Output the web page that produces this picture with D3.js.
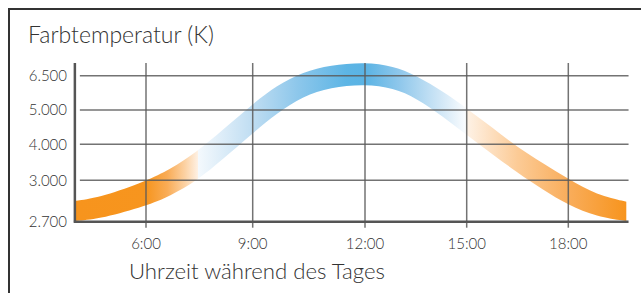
<!DOCTYPE html>
<html>
<head>
<meta charset="utf-8">
<script src="https://cdn.jsdelivr.net/npm/d3@7"></script>
<style>
  html, body { margin: 0; padding: 0; background: #fff; }
  svg { display: block; }
  text { font-family: Lato, "Open Sans", sans-serif; font-weight: 300; fill: #333; }
</style>
</head>
<body>
<svg id="chart" width="641" height="293"></svg>
<script>
// ---- data ----
const hours  = [4.0, 4.8, 6.0, 6.675, 7.425, 8.17, 9.0, 9.64, 10.35, 11.07, 12.0, 12.835, 13.525, 14.31, 15.0, 15.785, 16.475, 17.26, 18.0, 18.84, 19.72];
const upperK = [2850, 2883, 2995, 3300, 3786, 4431, 5262, 6071, 6662, 6960, 7090, 6920, 6500, 5800, 5074, 4466, 3933, 3472, 3036, 2893, 2845];
const lowerK = [2705, 2725, 2814, 2886, 2995, 3592, 4321, 4904, 5612, 5995, 6130, 5960, 5512, 4805, 4271, 3703, 3231, 2930, 2821, 2736, 2705];
const xTicks = [6, 9, 12, 15, 18];
const xTickLabels = ["6:00", "9:00", "12:00", "15:00", "18:00"];
const yTicks = [2700, 3000, 4000, 5000, 6500];
const yTickLabels = ["2.700", "3.000", "4.000", "5.000", "6.500"];
const yTitle = "Farbtemperatur (K)";
const xTitle = "Uhrzeit während des Tages";
const xStart = 4.0, xEnd = 19.72;

// ---- scales ----
const x = d3.scaleLinear().domain(xTicks).range([146, 252.7, 365, 466.7, 568.3]);
const y = d3.scaleLinear().domain(yTicks).range([221.7, 180.3, 144.3, 110, 75.7]);
const plotTop = 63;

const svg = d3.select("#chart");

// frame
svg.append("path").attr("d", "M9,293 V9 H641")
  .attr("fill", "none").attr("stroke", "#333").attr("stroke-width", 2);

// gradient along x
const gradStops = [
  [4.0, "#F7941D"], [6.0, "#F7951E"], [6.6, "#F9AC56"], [7.1, "#FCD2A4"], [7.45, "#FEF0E2"],
  [7.47, "#F4F9FD"], [9.0, "#BFDDF2"], [10.2, "#8DC7EB"], [11.5, "#5DB5E5"],
  [12.0, "#5AB3E4"], [13.0, "#8EC7EB"], [14.2, "#CFE6F6"], [14.97, "#FAFCFE"],
  [15.0, "#FEF2E6"], [16.5, "#FCCB96"], [18.0, "#F9AD5B"], [19.72, "#F7941D"]
];
const defs = svg.append("defs");
const x0 = x(xStart), x1 = x(xEnd);
const grad = defs.append("linearGradient").attr("id", "band")
  .attr("gradientUnits", "userSpaceOnUse")
  .attr("x1", x0).attr("x2", x1).attr("y1", 0).attr("y2", 0);
grad.selectAll("stop").data(gradStops).join("stop")
  .attr("offset", d => (x(d[0]) - x0) / (x1 - x0))
  .attr("stop-color", d => d[1]);
defs.append("clipPath").attr("id", "clip").append("rect")
  .attr("x", x0).attr("y", 0).attr("width", x1 - x0).attr("height", y(2700));

// band
const area = d3.area()
  .x((d, i) => x(hours[i]))
  .y0((d, i) => y(lowerK[i]))
  .y1((d, i) => y(upperK[i]))
  .curve(d3.curveBasis);
svg.append("path").datum(hours)
  .attr("clip-path", "url(#clip)")
  .attr("d", area)
  .attr("fill", "url(#band)");

// grid
const grid = svg.append("g").attr("stroke", "#5a5a5a").attr("stroke-opacity", 0.85).attr("stroke-width", 1.5);
grid.selectAll("line.h").data(yTicks.slice(1)).join("line")
  .attr("x1", x0 + 5).attr("x2", x1 + 2)
  .attr("y1", d => y(d)).attr("y2", d => y(d));
grid.selectAll("line.v").data(xTicks).join("line")
  .attr("x1", d => x(d)).attr("x2", d => x(d))
  .attr("y1", plotTop).attr("y2", y(2700) + 6);

// axes lines
svg.append("line").attr("x1", x0).attr("x2", x0).attr("y1", plotTop).attr("y2", y(2700) + 1)
  .attr("stroke", "#555").attr("stroke-width", 2.5);
svg.append("line").attr("x1", x0 - 1).attr("x2", x1 + 2).attr("y1", y(2700)).attr("y2", y(2700))
  .attr("stroke", "#555").attr("stroke-width", 2.5);

// y tick labels
svg.append("g").selectAll("text").data(yTicks).join("text")
  .attr("x", 67).attr("y", d => y(d)).attr("dy", "0.36em")
  .attr("text-anchor", "end").attr("font-size", 15)
  .text((d, i) => yTickLabels[i]);

// x tick labels
svg.append("g").selectAll("text").data(xTicks).join("text")
  .attr("x", d => x(d)).attr("y", 249)
  .attr("text-anchor", "middle").attr("font-size", 15)
  .text((d, i) => xTickLabels[i]);

// titles
svg.append("text").attr("x", 28).attr("y", 43).attr("font-size", 23).text(yTitle);
svg.append("text").attr("x", 129).attr("y", 279).attr("font-size", 22.2).text(xTitle);
</script>
</body>
</html>
